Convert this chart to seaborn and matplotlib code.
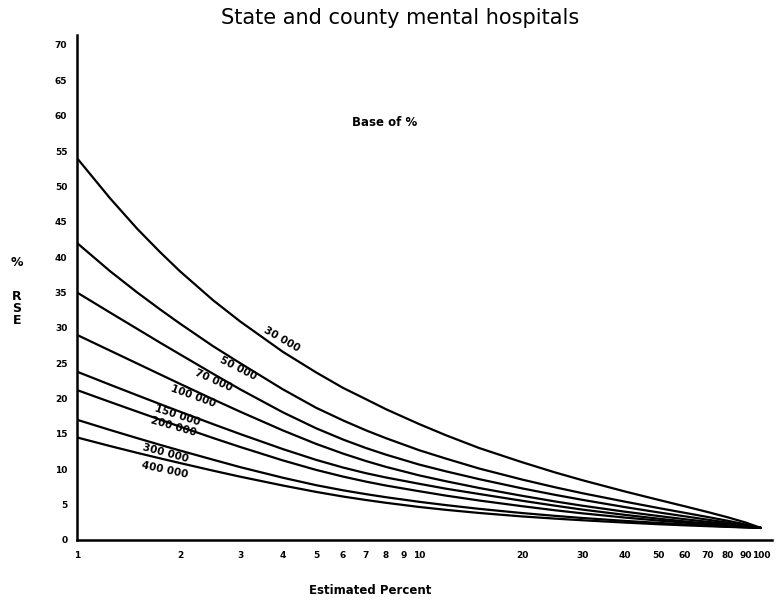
import matplotlib
matplotlib.use("Agg")
import matplotlib.pyplot as plt
import seaborn as sns
import pandas as pd

sns.set_theme(style="white")
plt.rcParams['font.family'] = ['DejaVu Sans']
plt.rcParams['text.color'] = 'black'
plt.rcParams['xtick.color'] = 'black'
plt.rcParams['ytick.color'] = 'black'

# Estimated percent (x) sample positions
pct = [1, 1.25, 1.5, 1.75, 2, 2.5, 3, 4, 5, 6, 7, 8, 10, 12, 15, 20, 25, 30, 40, 50, 60, 70, 80, 90, 100]

bases = ["30 000", "50 000", "70 000", "100 000", "150 000", "200 000", "300 000", "400 000"]

rse_30k  = [54.0, 48.3, 44.0, 40.7, 38.0, 33.9, 30.9, 26.6, 23.7, 21.5, 19.9, 18.5, 16.4, 14.8, 13.0, 11.0, 9.55, 8.46, 6.86, 5.69, 4.75, 3.94, 3.20, 2.48, 1.70]
rse_50k  = [42.0, 38.0, 35.0, 32.6, 30.6, 27.4, 25.0, 21.3, 18.7, 16.9, 15.5, 14.4, 12.7, 11.5, 10.1, 8.55, 7.45, 6.62, 5.42, 4.53, 3.83, 3.24, 2.71, 2.21, 1.70]
rse_70k  = [35.0, 32.15, 29.85, 27.9, 26.25, 23.5, 21.3, 18.05, 15.8, 14.2, 13.0, 12.07, 10.67, 9.70, 8.60, 7.30, 6.38, 5.68, 4.65, 3.91, 3.34, 2.86, 2.45, 2.07, 1.70]
rse_100k = [29.0, 26.77, 24.95, 23.41, 22.08, 19.89, 18.14, 15.49, 13.59, 12.21, 11.16, 10.34, 9.14, 8.30, 7.35, 6.25, 5.45, 4.85, 4.00, 3.40, 2.93, 2.56, 2.24, 1.96, 1.70]
rse_150k = [23.8, 21.95, 20.46, 19.21, 18.14, 16.38, 14.98, 12.85, 11.33, 10.24, 9.44, 8.84, 7.95, 7.25, 6.50, 5.55, 4.85, 4.30, 3.55, 3.02, 2.62, 2.32, 2.08, 1.88, 1.70]
rse_200k = [21.2, 19.51, 18.15, 17.01, 16.03, 14.42, 13.15, 11.25, 9.91, 8.96, 8.25, 7.70, 6.90, 6.27, 5.58, 4.78, 4.20, 3.77, 3.17, 2.75, 2.45, 2.21, 2.01, 1.84, 1.70]
rse_300k = [17.0, 15.55, 14.4, 13.45, 12.65, 11.35, 10.3, 8.80, 7.75, 7.02, 6.48, 6.05, 5.40, 4.93, 4.40, 3.81, 3.41, 3.11, 2.70, 2.42, 2.20, 2.03, 1.90, 1.79, 1.70]
rse_400k = [14.5, 13.28, 12.32, 11.54, 10.88, 9.80, 8.95, 7.70, 6.80, 6.14, 5.65, 5.26, 4.67, 4.26, 3.82, 3.33, 3.02, 2.79, 2.46, 2.23, 2.07, 1.95, 1.85, 1.77, 1.70]

series = [rse_30k, rse_50k, rse_70k, rse_100k, rse_150k, rse_200k, rse_300k, rse_400k]

# label positions (data coords) and rotations
label_x = [3.97, 2.96, 2.50, 2.18, 1.97, 1.91, 1.82, 1.80]
label_y = [28.4, 24.2, 22.6, 20.3, 17.6, 16.0, 12.3, 9.9]
label_rot = [-30, -27, -24, -20, -18, -16, -15, -12]

xticks = [1, 2, 3, 4, 5, 6, 7, 8, 9, 10, 20, 30, 40, 50, 60, 70, 80, 90, 100]
yticks = list(range(0, 71, 5))

rows = []
for b, vals in zip(bases, series):
    for p, v in zip(pct, vals):
        rows.append({"pct": p, "rse": v, "base": b})
df = pd.DataFrame(rows)

fig = plt.figure(figsize=(7.77, 6.04), dpi=100)
ax = fig.add_axes([0.0991, 0.106, 0.895, 0.836])

sns.lineplot(data=df, x="pct", y="rse", hue="base", hue_order=bases,
             palette=["black"] * len(bases), legend=False, linewidth=1.6, ax=ax)

ax.set_xscale("log")
ax.set_xlim(1, 108)
ax.set_ylim(0, 71.4)
ax.set_xticks(xticks)
ax.set_xticklabels([str(t) for t in xticks], fontsize=6.5, fontweight="bold")
ax.xaxis.set_minor_locator(matplotlib.ticker.NullLocator())
ax.set_yticks(yticks)
ax.set_yticklabels([str(t) for t in yticks], fontsize=6.5, fontweight="bold")
ax.tick_params(axis="both", direction="out", length=5, width=1.3, color="black", pad=2)
ax.tick_params(axis="x", length=6)

for s in ["top", "right"]:
    ax.spines[s].set_visible(False)
for s in ["left", "bottom"]:
    ax.spines[s].set_color("black")
    ax.spines[s].set_linewidth(1.8)

ax.set_xlabel("")
ax.set_ylabel("")
ax.grid(False)

for b, lx, ly, r in zip(bases, label_x, label_y, label_rot):
    ax.text(lx, ly, b, rotation=r, fontsize=7.5, fontweight="bold",
            ha="center", va="center", rotation_mode="anchor")

fig.text(0.515, 0.97, "State and county mental hospitals", ha="center", va="center",
         fontsize=15)
fig.text(0.495, 0.798, "Base of %", ha="center", va="center",
         fontsize=8.5, fontweight="bold")
fig.text(0.476, 0.023, "Estimated Percent", ha="center", va="center",
         fontsize=8.5, fontweight="bold")
fig.text(0.022, 0.566, "%", ha="center", va="center", fontsize=9, fontweight="bold")
for i, ch in enumerate(["R", "S", "E"]):
    fig.text(0.022, 1 - (297 + 12 * i) / 604, ch, ha="center", va="center",
             fontsize=9, fontweight="bold")

fig.savefig("out.png", dpi=100)
